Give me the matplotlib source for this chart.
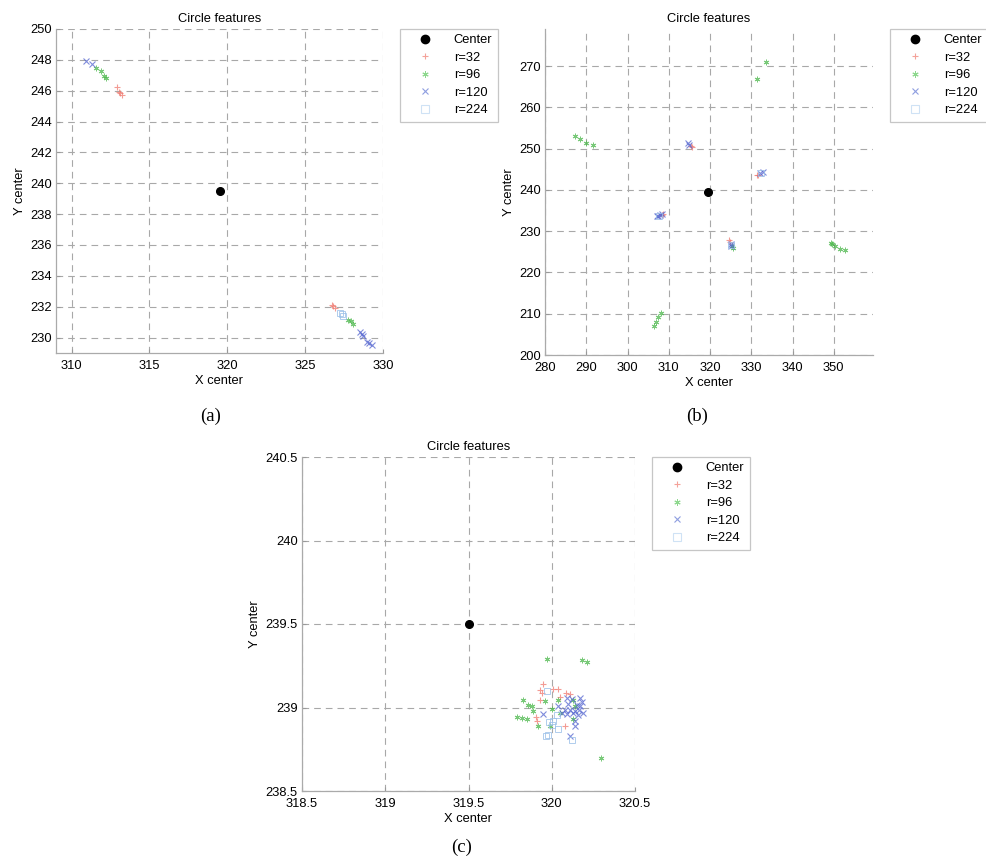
import numpy as np
import matplotlib
matplotlib.use("Agg")
import matplotlib.pyplot as plt

plt.rcParams['font.family'] = ['Liberation Sans', 'DejaVu Sans']

# ---- data ----
center = (319.5, 239.5)

# panel (a)
a_r32_x = [312.93, 313.05, 313.14, 313.25, 326.71, 326.82, 326.92]
a_r32_y = [246.27, 245.92, 245.84, 245.73, 232.14, 232.04, 231.92]
a_r96_x = [311.54, 311.86, 312.10, 312.18, 327.78, 327.95, 328.10]
a_r96_y = [247.50, 247.28, 246.95, 246.85, 231.17, 231.05, 230.91]
a_r120_x = [310.90, 311.33, 328.53, 328.65, 328.74, 328.96, 329.10, 329.28]
a_r120_y = [247.95, 247.73, 230.34, 230.25, 230.08, 229.70, 229.62, 229.55]
a_r224_x = [327.24, 327.35, 327.46]
a_r224_y = [231.60, 231.50, 231.42]

# panel (b)
b_r32_x = [315.3, 315.6, 331.3, 331.7, 308.3, 308.6, 324.6, 324.8]
b_r32_y = [250.7, 250.3, 243.5, 243.7, 233.9, 234.1, 227.9, 227.5]
b_r96_x = [331.4, 333.6, 287.3, 288.5, 290.0, 291.7, 325.4, 325.6,
           349.2, 349.6, 350.4, 351.6, 352.6, 306.3, 306.9, 307.5, 308.2]
b_r96_y = [266.8, 270.9, 253.1, 252.4, 251.4, 250.9, 226.3, 225.9,
           227.1, 226.8, 226.3, 225.8, 225.5, 207.0, 208.0, 209.2, 210.2]
b_r120_x = [314.6, 315.0, 332.2, 332.8, 307.1, 307.5, 307.9, 308.3, 325.0, 325.2]
b_r120_y = [251.45, 251.0, 244.0, 244.3, 233.6, 233.8, 234.0, 234.2, 226.9, 226.5]
b_r224_x = [307.6, 332.4, 325.1]
b_r224_y = [233.7, 244.1, 226.6]

# panel (c)
c_r32_x = [319.95, 319.93, 319.944, 320.01, 320.04, 320.084, 320.11,
           319.904, 319.914, 319.93, 320.05, 320.08]
c_r32_y = [239.141, 239.105, 239.085, 239.109, 239.109, 239.089, 239.079,
           238.942, 238.917, 239.046, 239.062, 238.89]
c_r96_x = [319.826, 319.86, 319.88, 319.89, 319.79, 319.82, 319.85, 319.92,
           319.96, 320.0, 320.04, 320.13, 320.14, 320.13, 319.99, 320.05,
           320.296, 319.97, 320.18, 320.21]
c_r96_y = [239.042, 239.016, 239.006, 238.982, 238.942, 238.937, 238.93, 238.887,
           239.036, 238.99, 239.046, 239.046, 239.006, 238.93, 238.89, 238.97,
           238.698, 239.292, 239.285, 239.27]
c_r120_x = [320.09, 320.12, 320.17, 320.18, 320.15, 320.10, 320.08, 320.11,
            320.14, 320.166, 320.19, 320.16, 320.13, 320.09, 320.06, 320.14,
            320.14, 320.11, 319.95, 320.04, 320.17]
c_r120_y = [239.056, 239.05, 239.056, 239.03, 239.016, 239.022, 238.986, 238.986,
            238.982, 238.986, 238.966, 238.956, 238.966, 238.962, 238.966, 238.917,
            238.887, 238.831, 238.962, 239.006, 239.006]
c_r224_x = [319.974, 319.986, 319.963, 319.979, 320.04, 320.12, 320.03, 320.01, 320.0]
c_r224_y = [239.099, 238.912, 238.829, 238.835, 238.87, 238.807, 238.953, 238.917, 238.897]

a_xticks = [310, 315, 320, 325, 330]
a_yticks = [230, 232, 234, 236, 238, 240, 242, 244, 246, 248, 250]
b_xticks = [280, 290, 300, 310, 320, 330, 340, 350]
b_yticks = [200, 210, 220, 230, 240, 250, 260, 270]
c_xticks = [318.5, 319, 319.5, 320, 320.5]
c_xlabels = ['318.5', '319', '319.5', '320', '320.5']
c_yticks = [238.5, 239, 239.5, 240, 240.5]
c_ylabels = ['238.5', '239', '239.5', '240', '240.5']

labels = ['Center', 'r=32', 'r=96', 'r=120', 'r=224']

W, H = 987, 864
fig = plt.figure(figsize=(W / 100, H / 100), dpi=100)


def box(l, t, r, b):
    return [l / W, 1 - b / H, (r - l) / W, (b - t) / H]


FS = 9.3
red = '#f07a70'
green = '#4cb84c'
blue = '#5566d0'
sq = '#9cc0e8'


def panel(rect, data, xlim, ylim, xticks, yticks, xlabels=None, ylabels=None):
    ax = fig.add_axes(rect)
    r32, r96, r120, r224 = data
    ax.plot([center[0]], [center[1]], 'o', color='black', ms=5.5, zorder=5)
    ax.plot(r32[0], r32[1], '+', color=red, ms=4, mew=0.8, alpha=0.75, ls='none')
    ax.plot(r96[0], r96[1], marker=(6, 2, 0), color=green, ms=4, mew=0.7,
            alpha=0.75, ls='none')
    ax.plot(r120[0], r120[1], 'x', color=blue, ms=4, mew=0.8, alpha=0.75, ls='none')
    ax.plot(r224[0], r224[1], 's', mfc='none', mec=sq, ms=4, mew=0.7,
            alpha=0.8, ls='none')
    ax.set_xlim(*xlim)
    ax.set_ylim(*ylim)
    ax.set_xticks(xticks)
    ax.set_yticks(yticks)
    if xlabels:
        ax.set_xticklabels(xlabels)
    if ylabels:
        ax.set_yticklabels(ylabels)
    ax.grid(True, linestyle=(0, (6, 4.5)), color='#a8a8a8', linewidth=0.8)
    ax.set_axisbelow(True)
    for s in ['top', 'right']:
        ax.spines[s].set_visible(False)
    for s in ['left', 'bottom']:
        ax.spines[s].set_color('#aaaaaa')
        ax.spines[s].set_linewidth(0.9)
    ax.tick_params(direction='in', length=3, color='#999999', labelsize=FS)
    ax.tick_params(axis='x', pad=5)
    ax.tick_params(axis='y', pad=3)
    ax.set_title('Circle features', fontsize=FS, pad=5)
    ax.set_xlabel('X center', fontsize=FS, labelpad=2.5)
    ax.set_ylabel('Y center', fontsize=FS, labelpad=3)

    # legend handles with the paler legend colours
    leg_handles = [
        plt.Line2D([], [], ls='none', marker='o', color='black', ms=6),
        plt.Line2D([], [], ls='none', marker='+', color='#f4a29a', ms=4.5, mew=0.8),
        plt.Line2D([], [], ls='none', marker=(6, 2, 0), color='#8ed88e', ms=4.5, mew=0.7),
        plt.Line2D([], [], ls='none', marker='x', color='#8f9ee0', ms=4, mew=0.8),
        plt.Line2D([], [], ls='none', marker='s', mfc='none', mec='#cfe2f5', ms=5.5, mew=0.8),
    ]
    wpx = rect[2] * W
    leg = ax.legend(leg_handles, labels, loc='upper left',
                    bbox_to_anchor=(1 + 17 / wpx, 1), borderaxespad=0,
                    frameon=True, fancybox=False, fontsize=FS,
                    handlelength=3.0, handletextpad=0.75, labelspacing=0.42,
                    borderpad=0.42, numpoints=1)
    leg.get_frame().set_edgecolor('#b8b8b8')
    leg.get_frame().set_linewidth(0.9)
    return ax


panel(box(56, 29, 383, 353),
      [(a_r32_x, a_r32_y), (a_r96_x, a_r96_y), (a_r120_x, a_r120_y), (a_r224_x, a_r224_y)],
      (309, 330), (229, 250), a_xticks, a_yticks)

panel(box(545, 29, 873, 355),
      [(b_r32_x, b_r32_y), (b_r96_x, b_r96_y), (b_r120_x, b_r120_y), (b_r224_x, b_r224_y)],
      (280, 359.5), (200, 279), b_xticks, b_yticks)

panel(box(302, 457, 635, 791),
      [(c_r32_x, c_r32_y), (c_r96_x, c_r96_y), (c_r120_x, c_r120_y), (c_r224_x, c_r224_y)],
      (318.5, 320.5), (238.5, 240.5), c_xticks, c_yticks, c_xlabels, c_ylabels)

# sub-figure captions
for txt, x, y in [('(a)', 211, 416), ('(b)', 697, 416), ('(c)', 462, 847)]:
    fig.text(x / W, 1 - y / H, txt, ha='center', va='center', fontsize=13.5,
             family=['Liberation Serif', 'DejaVu Serif'])

fig.savefig('out.png', dpi=100)
